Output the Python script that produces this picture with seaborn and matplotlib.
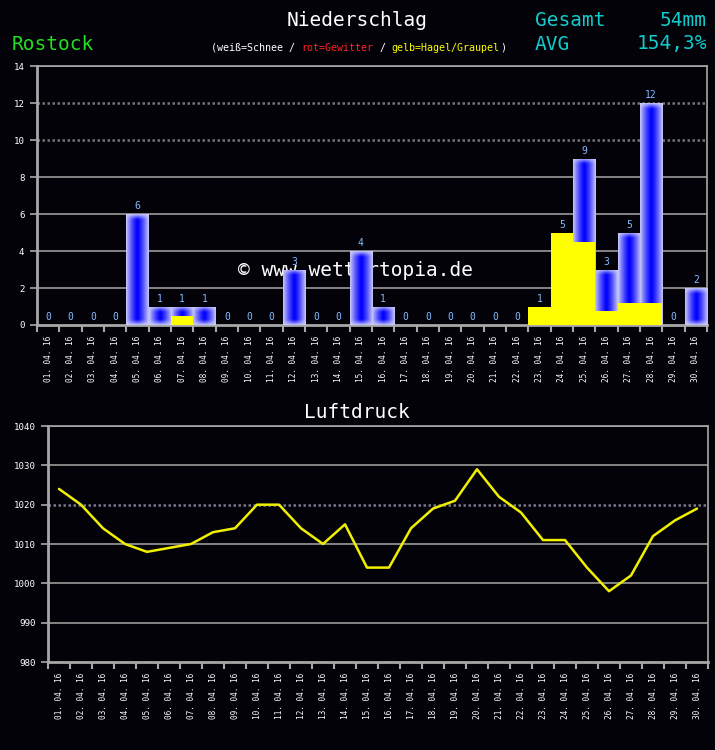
import numpy as np
import pandas as pd
import matplotlib
matplotlib.use("Agg")
import matplotlib.pyplot as plt
import seaborn as sns

# ---------------- data ----------------
days = ["01. 04. 16", "02. 04. 16", "03. 04. 16", "04. 04. 16", "05. 04. 16",
        "06. 04. 16", "07. 04. 16", "08. 04. 16", "09. 04. 16", "10. 04. 16",
        "11. 04. 16", "12. 04. 16", "13. 04. 16", "14. 04. 16", "15. 04. 16",
        "16. 04. 16", "17. 04. 16", "18. 04. 16", "19. 04. 16", "20. 04. 16",
        "21. 04. 16", "22. 04. 16", "23. 04. 16", "24. 04. 16", "25. 04. 16",
        "26. 04. 16", "27. 04. 16", "28. 04. 16", "29. 04. 16", "30. 04. 16"]
precip_total = [0, 0, 0, 0, 6, 1, 1, 1, 0, 0, 0, 3, 0, 0, 4, 1, 0, 0, 0, 0,
                0, 0, 1, 5, 9, 3, 5, 12, 0, 2]
precip_hail = [0, 0, 0, 0, 0, 0, 0.5, 0, 0, 0, 0, 0, 0, 0, 0, 0, 0, 0, 0, 0,
               0, 0, 1, 5, 4.5, 0.75, 1.2, 1.2, 0, 0]
pressure = [1024, 1020, 1014, 1010, 1008, 1009, 1010, 1013, 1014, 1020,
            1020, 1014, 1010, 1015, 1004, 1004, 1014, 1019, 1021, 1029,
            1022, 1018, 1011, 1011, 1004, 998, 1002, 1012, 1016, 1019]
precip_yticks = [0, 2, 4, 6, 8, 10, 12, 14]
pressure_yticks = [980, 990, 1000, 1010, 1020, 1030, 1040]

station = "Rostock"
title_precip = "Niederschlag"
title_press = "Luftdruck"
total_text = "54mm"
avg_text = "154,3%"
subtitle_parts = [("(weiß=Schnee / ", "white"), ("rot=Gewitter", "#ff2222"),
                  (" / ", "white"), ("gelb=Hagel/Graupel", "#ffff00"),
                  (")", "white")]

# ---------------- style ----------------
BG = "#030208"
GRID = "#a8a8a8"
sns.set_theme(style="dark")
plt.rcParams["font.family"] = ["DejaVu Sans Mono", "DejaVu Sans"]
plt.rcParams["axes.facecolor"] = BG
plt.rcParams["figure.facecolor"] = BG

W, H = 715, 750
fig = plt.figure(figsize=(W / 100, H / 100), dpi=100)


def fx(px):
    return px / W


def fy(py):
    return 1 - py / H


ax1 = fig.add_axes([fx(37), fy(325), (707 - 37) / W, (325 - 66) / H])
ax2 = fig.add_axes([fx(48), fy(662), (708 - 48) / W, (662 - 426) / H])

df = pd.DataFrame({"day": days, "total": precip_total, "hail": precip_hail})
dfp = pd.DataFrame({"day": days, "pressure": pressure})

# ---------------- precipitation ----------------
sns.barplot(data=df, x="day", y="total", ax=ax1, width=1.0, color="#0000ff",
            saturation=1, linewidth=0, zorder=2)
cont_total = ax1.containers[0]

px_per_unit = (325 - 66) / 14.0
edge_c = np.array([0.80, 0.80, 0.98])
core_c = np.array([0.0, 0.0, 1.0])
for p in cont_total.patches:
    x0, w, h = p.get_x(), p.get_width(), p.get_height()
    if h <= 0:
        continue
    h_px = h * px_per_unit
    nx = 60
    ny = max(int(h_px * 2), 4)
    xs = (np.arange(nx) + 0.5) / nx
    tx = np.clip(np.abs(xs - 0.5) * 2, 0, 1) ** 1.3
    ys = (np.arange(ny) + 0.5) / ny * h_px
    d = np.minimum(ys, h_px - ys)
    fade = min(6.0, h_px * 0.45)
    ty = np.clip(1 - d / fade, 0, 1) ** 1.3
    l = 1 - (1 - tx[None, :]) * (1 - ty[:, None])
    img = core_c[None, None, :] + l[:, :, None] * (edge_c - core_c)[None, None, :]
    im = ax1.imshow(img, extent=(x0, x0 + w, 0, h), origin="lower",
                    aspect="auto", interpolation="bilinear", zorder=3)
    im.set_clip_path(p)

sns.barplot(data=df, x="day", y="hail", ax=ax1, width=1.0, color="#ffff00",
            saturation=1, linewidth=0, zorder=4)

ax1.bar_label(cont_total, labels=[f"{v:g}" for v in precip_total], padding=2,
              color="#88bbff", fontsize=7, zorder=5)

ax1.set_xlim(-0.5, len(days) - 0.5)
ax1.set_ylim(0, 14)

for yv in precip_yticks[1:]:
    if yv in (10, 12):
        ax1.axhline(yv, color="#767676", lw=1.8, ls=(0, (1, 1)), zorder=1)
    else:
        ax1.axhline(yv, color=GRID, lw=1.1, zorder=1)

ax1.text(fx(238), fy(271), "\u00a9 www.wettertopia.de", transform=fig.transFigure,
         color="white", fontsize=14, ha="left", va="center", zorder=1.5)

# ---------------- pressure ----------------
sns.lineplot(data=dfp, x="day", y="pressure", ax=ax2, color="#f0f000", lw=1.8,
             zorder=3)
ax2.set_xlim(-0.5, len(days) - 0.5)
ax2.set_ylim(980, 1040)
for yv in pressure_yticks[1:]:
    if yv == 1020:
        ax2.axhline(yv, color="#78788a", lw=1.8, ls=(0, (1, 1)), zorder=1)
    else:
        ax2.axhline(yv, color=GRID, lw=1.1, zorder=1)

# ---------------- axes styling ----------------
for ax, yt in ((ax1, precip_yticks), (ax2, pressure_yticks)):
    ax.set_xlabel("")
    ax.set_ylabel("")
    ax.set_yticks(yt)
    ax.set_yticklabels([str(v) for v in yt])
    ax.set_xticks(range(len(days)))
    ax.set_xticklabels(days, rotation=90)
    ax.set_xticks(np.arange(-0.5, len(days), 1.0), minor=True)
    ax.tick_params(axis="x", which="major", length=0, pad=8, labelsize=5.6,
                   colors="white")
    ax.tick_params(axis="x", which="minor", length=5, width=1.5, color=GRID,
                   direction="out", bottom=True)
    ax.tick_params(axis="y", which="major", length=5, width=1.2, color=GRID,
                   direction="out", left=True, pad=4, labelsize=6.6,
                   labelcolor="white")
    ax.grid(False)
    for s in ("left", "bottom"):
        ax.spines[s].set_visible(True)
        ax.spines[s].set_color(GRID)
        ax.spines[s].set_linewidth(2)
    for s in ("right", "top"):
        ax.spines[s].set_visible(True)
        ax.spines[s].set_color(GRID)
        ax.spines[s].set_linewidth(1.2)

# ---------------- header texts ----------------
fig.text(fx(357), fy(20), title_precip, color="white", fontsize=14,
         ha="center", va="center")
fig.text(fx(12), fy(44), station, color="#22dd22", fontsize=14,
         ha="left", va="center")
fig.text(fx(535), fy(20), "Gesamt", color="#11cccc", fontsize=14,
         ha="left", va="center")
fig.text(fx(707), fy(20), total_text, color="#11cccc", fontsize=14,
         ha="right", va="center")
fig.text(fx(535), fy(44), "AVG", color="#11cccc", fontsize=14,
         ha="left", va="center")
fig.text(fx(707), fy(44), avg_text, color="#11cccc", fontsize=14,
         ha="right", va="center")

# subtitle, pieces placed one after another (monospace advance)
sub_fs = 7.2
char_px = 0.602 * sub_fs * 100 / 72
xpos = 211.0
for s, c in subtitle_parts:
    fig.text(fx(xpos), fy(48), s, color=c, fontsize=sub_fs, ha="left", va="center")
    xpos += len(s) * char_px

fig.text(fx(357), fy(413), title_press, color="white", fontsize=14,
         ha="center", va="center")

fig.savefig("out.png", dpi=100, facecolor=BG)
